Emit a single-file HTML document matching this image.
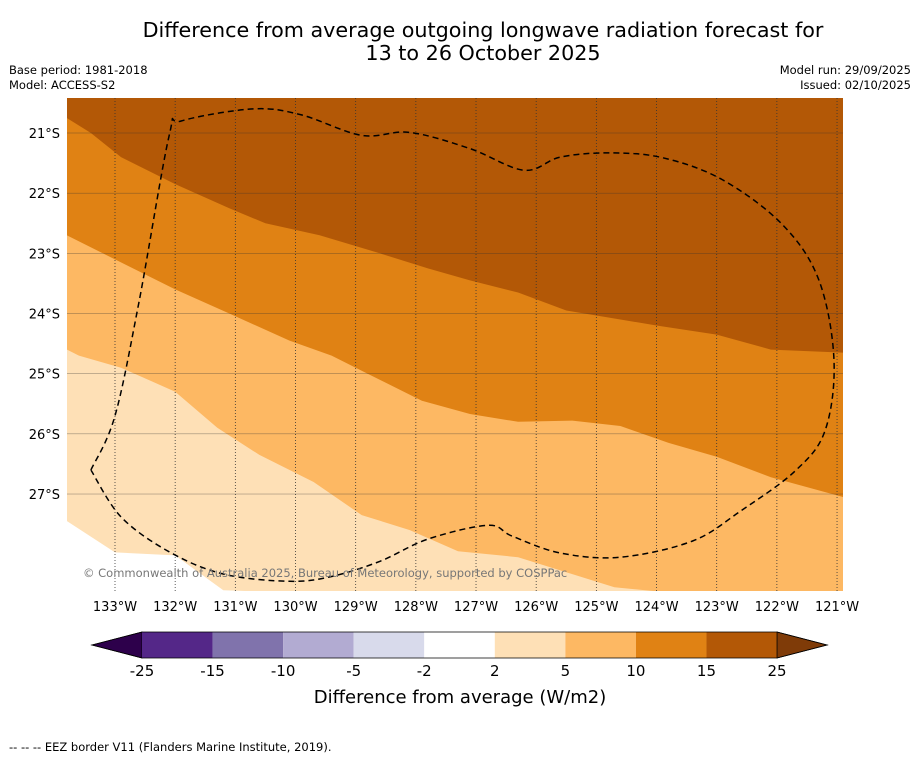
<!DOCTYPE html>
<html><head><meta charset="utf-8"><style>
body{margin:0;background:#fff;font-family:"Liberation Sans","DejaVu Sans",sans-serif;}
#wrap{position:relative;width:919px;height:758px;overflow:hidden;}
.t{position:absolute;white-space:nowrap;}
</style></head><body>
<div id="wrap">
<div class="t" style="left:0;width:966px;top:19px;text-align:center;font-size:20.7px;line-height:23px;font-family:'DejaVu Sans',sans-serif;">Difference from average outgoing longwave radiation forecast for<br>13 to 26 October 2025</div>
<div class="t" style="left:9px;top:63px;font-size:11.5px;line-height:15px;font-family:'DejaVu Sans',sans-serif;">Base period: 1981-2018<br>Model: ACCESS-S2</div>
<div class="t" style="right:8px;top:63px;font-size:11.5px;line-height:15px;text-align:right;font-family:'DejaVu Sans',sans-serif;">Model run: 29/09/2025<br>Issued: 02/10/2025</div>
<svg id="svg" width="919" height="758" style="position:absolute;left:0;top:0" font-family="DejaVu Sans, sans-serif"></svg>
<div class="t" style="left:9px;top:740px;font-size:11.5px;font-family:'DejaVu Sans',sans-serif;">--  --  -- EEZ border V11 (Flanders Marine Institute, 2019).</div>
</div>
<script>
const lonTicks=[-133,-132,-131,-130,-129,-128,-127,-126,-125,-124,-123,-122,-121];
const latTicks=[-21,-22,-23,-24,-25,-26,-27];
const cbLevels=["-25","-15","-10","-5","-2","2","5","10","15","25"];
const cbColors=["#542788","#8073ac","#b2abd2","#d8daeb","#ffffff","#fee0b6","#fdb863","#e08214","#b35806"];
const b15=[[-133.8,-20.75],[-133.4,-21.0],[-132.9,-21.4],[-132,-21.85],[-131.1,-22.25],[-130.5,-22.5],[-129.6,-22.7],[-128.6,-23.0],[-127.8,-23.25],[-127.1,-23.45],[-126.3,-23.65],[-125.5,-23.95],[-124.6,-24.1],[-124,-24.2],[-123,-24.35],[-122.1,-24.6],[-120.9,-24.65]];
const b10=[[-133.8,-22.7],[-132.9,-23.15],[-132,-23.6],[-131.1,-24.0],[-130.1,-24.45],[-129.4,-24.7],[-128.8,-25.0],[-127.9,-25.45],[-127.1,-25.67],[-126.3,-25.8],[-125.4,-25.78],[-124.6,-25.87],[-123.8,-26.15],[-123,-26.38],[-122.1,-26.72],[-120.9,-27.05]];
const b5=[[-133.8,-24.6],[-133.6,-24.7],[-132.9,-24.9],[-132,-25.3],[-131.3,-25.9],[-130.6,-26.35],[-129.7,-26.8],[-128.9,-27.35],[-128.1,-27.6],[-127.3,-27.95],[-126.3,-28.05],[-125.5,-28.3],[-124.7,-28.55]];
const b2=[[-133.8,-27.45],[-133,-27.97],[-132,-28.02],[-131.2,-28.6]];
const eez=[[-133.4,-26.6],[-133,-25.7],[-132.6,-23.8],[-132.1,-21.04],[-131.9,-20.8],[-130.7,-20.6],[-129.9,-20.7],[-128.9,-21.04],[-128.1,-20.99],[-127.1,-21.26],[-126.2,-21.62],[-125.6,-21.4],[-124.8,-21.33],[-123.9,-21.41],[-122.9,-21.78],[-121.9,-22.53],[-121.3,-23.45],[-121.05,-24.78],[-121.2,-25.95],[-121.7,-26.62],[-122.6,-27.28],[-123.4,-27.78],[-124.6,-28.05],[-125.6,-27.98],[-126.4,-27.7],[-126.8,-27.52],[-127.8,-27.75],[-128.6,-28.12],[-129.4,-28.37],[-130.1,-28.45],[-131.2,-28.33],[-132.1,-27.96],[-132.9,-27.38],[-133.4,-26.6]];
const X0=67,X1=843,Y0=98,Y1=591;
function xs(lon){return 115+(lon+133)*60.17;}
function ys(lat){return 133+(-21-lat)*60.17;}
const svg=document.getElementById('svg');const NS='http://www.w3.org/2000/svg';
function mk(t,a,p){const e=document.createElementNS(NS,t);for(const k in a)e.setAttribute(k,a[k]);(p||svg).appendChild(e);return e;}
function pts(arr){return arr.map(p=>xs(p[0]).toFixed(1)+','+ys(p[1]).toFixed(1)).join(' ');}
function smooth(arr){
  const P=arr.map(p=>[xs(p[0]),ys(p[1])]);const n=P.length;
  let d=`M${P[0][0].toFixed(1)},${P[0][1].toFixed(1)}`;
  for(let i=0;i<n-1;i++){
    const p0=P[i-1]||P[i],p1=P[i],p2=P[i+1],p3=P[i+2]||P[i+1];
    const c1=[p1[0]+(p2[0]-p0[0])/6,p1[1]+(p2[1]-p0[1])/6];
    const c2=[p2[0]-(p3[0]-p1[0])/6,p2[1]-(p3[1]-p1[1])/6];
    d+=` C${c1[0].toFixed(1)},${c1[1].toFixed(1)} ${c2[0].toFixed(1)},${c2[1].toFixed(1)} ${p2[0].toFixed(1)},${p2[1].toFixed(1)}`;
  }
  return d;
}
const defs=mk('defs',{});const cp=mk('clipPath',{id:'mc'},defs);mk('rect',{x:X0,y:Y0,width:X1-X0,height:Y1-Y0},cp);
const g=mk('g',{'clip-path':'url(#mc)'});


function band(arr,color,name){
  const last=arr[arr.length-1];
  const p=pts(arr)+` ${X1+20},${last[1]<-28?Y1+20:ys(last[1])} ${X1+20},${Y1+20} ${X0-20},${Y1+20}`;
  const e=mk('polygon',{points:p,fill:color},g);
  
  
}
const topBand=mk('rect',{x:X0,y:Y0,width:X1-X0,height:Y1-Y0,fill:'#b35806'},g);


band(b15,'#e08214','band-10-15');
band(b10,'#fdb863','band-5-10');
band(b5,'#fee0b6','band-2-5');
band(b2,'#ffffff','band-neg2-2');
for(const lon of lonTicks){const l=mk('line',{x1:xs(lon),x2:xs(lon),y1:Y0,y2:Y1,stroke:'#333','stroke-width':0.8,'stroke-dasharray':'1,2'},g);
 
 }
for(const lat of latTicks){const l=mk('line',{x1:X0,x2:X1,y1:ys(lat),y2:ys(lat),stroke:'#333','stroke-width':0.5,'stroke-opacity':0.6},g);
 
 }
const ez=mk('path',{d:smooth(eez),fill:'none',stroke:'#000','stroke-width':1.5,'stroke-dasharray':'6,4'},g);


const wm=mk('text',{x:83,y:577,'font-size':11.5,fill:'#777'});wm.textContent='© Commonwealth of Australia 2025, Bureau of Meteorology, supported by COSPPac';


for(const lon of lonTicks){const t=mk('text',{x:xs(lon),y:611,'font-size':13,'text-anchor':'middle'});t.textContent=Math.abs(lon)+'°W';
 
 }
for(const lat of latTicks){const t=mk('text',{x:60,y:ys(lat)+5,'font-size':13,'text-anchor':'end'});t.textContent=Math.abs(lat)+'°S';
 
 }
const cx0=142,cw=70.56,cy=632,ch=26;
const lt=mk('polygon',{points:`${cx0},${cy} 92,${cy+ch/2} ${cx0},${cy+ch}`,fill:'#2d004b',stroke:'#000','stroke-width':0.8});


cbColors.forEach((c,i)=>{const e=mk('rect',{x:cx0+i*cw,y:cy,width:cw,height:ch,fill:c});
 
 });
const xe=cx0+cbColors.length*cw;
const rt=mk('polygon',{points:`${xe},${cy} ${xe+50},${cy+ch/2} ${xe},${cy+ch}`,fill:'#7f3b08',stroke:'#000','stroke-width':0.8});


mk('polygon',{points:`92,${cy+ch/2} ${cx0},${cy} ${xe},${cy} ${xe+50},${cy+ch/2} ${xe},${cy+ch} ${cx0},${cy+ch}`,fill:'none',stroke:'#000','stroke-width':0.8});
cbLevels.forEach((s,i)=>{const t=mk('text',{x:cx0+i*cw,y:676,'font-size':15,'text-anchor':'middle'});t.textContent=s;
 
 });
const ct=mk('text',{x:460,y:703,'font-size':18,'text-anchor':'middle'});ct.textContent='Difference from average (W/m2)';


</script>
</body></html>
